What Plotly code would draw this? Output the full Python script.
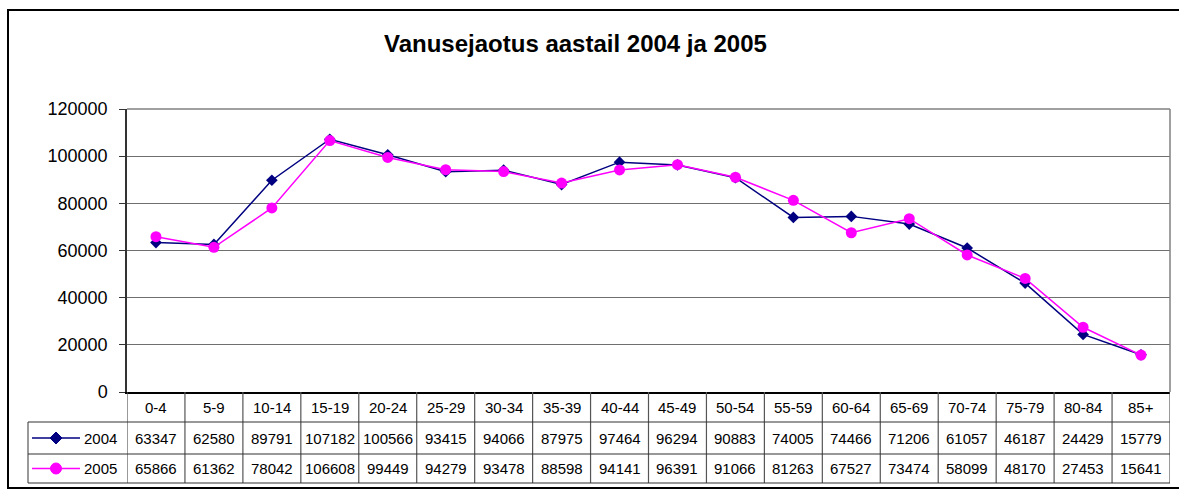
import plotly.graph_objects as go

categories = ["0-4", "5-9", "10-14", "15-19", "20-24", "25-29", "30-34", "35-39", "40-44",
              "45-49", "50-54", "55-59", "60-64", "65-69", "70-74", "75-79", "80-84", "85+"]
values_2004 = [63347, 62580, 89791, 107182, 100566, 93415, 94066, 87975, 97464,
               96294, 90883, 74005, 74466, 71206, 61057, 46187, 24429, 15779]
values_2005 = [65866, 61362, 78042, 106608, 99449, 94279, 93478, 88598, 94141,
               96391, 91066, 81263, 67527, 73474, 58099, 48170, 27453, 15641]
series_names = ["2004", "2005"]
title_text = "Vanusejaotus aastail 2004 ja 2005"
y_ticks = [0, 20000, 40000, 60000, 80000, 100000, 120000]

FONT = "Liberation Sans, Arial, sans-serif"
NAVY = "#000080"
MAGENTA = "#FF00FF"

W, H = 1179, 495
L, R, T, B = 127, 9, 109, 103
PH = H - T - B  # plot height in px
PW = W - L - R


def py(pix):
    return (H - B - pix) / PH


def px(pix):
    return (pix - L) / PW


xs = list(range(len(categories)))

fig = go.Figure()
fig.add_trace(go.Scatter(
    x=xs, y=values_2004, name=series_names[0], mode="lines+markers",
    line=dict(color=NAVY, width=1.5),
    marker=dict(symbol="diamond", size=9, color=NAVY),
    showlegend=False))
fig.add_trace(go.Scatter(
    x=xs, y=values_2005, name=series_names[1], mode="lines+markers",
    line=dict(color=MAGENTA, width=1.5),
    marker=dict(symbol="circle", size=11, color=MAGENTA),
    showlegend=False))

shapes = []
annotations = []

# outer frame
shapes.append(dict(type="rect", xref="paper", yref="paper",
                   x0=px(8), x1=px(1200), y0=py(488), y1=py(10),
                   line=dict(color="black", width=2), layer="below"))
# plot area border (top / right)
shapes.append(dict(type="line", xref="paper", yref="paper", x0=0, x1=1, y0=1, y1=1,
                   line=dict(color="#808080", width=1.5)))
shapes.append(dict(type="line", xref="paper", yref="paper", x0=1, x1=1, y0=0, y1=1,
                   line=dict(color="#808080", width=1.5)))

# table geometry
row_lines = [py(422), py(454), py(483)]
table_bottom = py(483)
legend_left = px(28)

# vertical lines of the table (through category boundaries)
for i in range(len(categories) + 1):
    shapes.append(dict(type="line", xref="x", yref="paper",
                       x0=i - 0.5, x1=i - 0.5, y0=0, y1=table_bottom,
                       line=dict(color="#555555", width=1.2)))
# left border of legend cells
shapes.append(dict(type="line", xref="paper", yref="paper",
                   x0=legend_left, x1=legend_left, y0=row_lines[0], y1=table_bottom,
                   line=dict(color="#555555", width=1.2)))
# horizontal lines
for yl in row_lines:
    shapes.append(dict(type="line", xref="paper", yref="paper",
                       x0=legend_left, x1=1, y0=yl, y1=yl,
                       line=dict(color="#333333", width=1.2)))

# header labels
for i, c in enumerate(categories):
    annotations.append(dict(x=i, y=py(407), xref="x", yref="paper", text=c,
                            xanchor="center", yanchor="middle",
                            showarrow=False, font=dict(family=FONT, size=15, color="black")))

row_centers = [py(438), py(468.5)]
for r, (vals, name, color) in enumerate([(values_2004, series_names[0], NAVY),
                                         (values_2005, series_names[1], MAGENTA)]):
    yc = row_centers[r]
    for i, v in enumerate(vals):
        annotations.append(dict(x=i, y=yc, xref="x", yref="paper", text=str(v),
                                xanchor="center", yanchor="middle",
                                showarrow=False, font=dict(family=FONT, size=15, color="black")))
    # legend key line
    shapes.append(dict(type="line", xref="paper", yref="paper",
                       x0=px(32), x1=px(80), y0=yc, y1=yc,
                       line=dict(color=color, width=1.5)))
    # legend key marker
    if r == 0:
        shapes.append(dict(type="path", xref="paper", yref="paper",
                           xsizemode="pixel", ysizemode="pixel",
                           xanchor=px(56), yanchor=yc,
                           path="M -6 0 L 0 6 L 6 0 L 0 -6 Z",
                           fillcolor=color, line=dict(color=color, width=1)))
    else:
        shapes.append(dict(type="circle", xref="paper", yref="paper",
                           xsizemode="pixel", ysizemode="pixel",
                           xanchor=px(56), yanchor=yc,
                           x0=-5.5, x1=5.5, y0=-5.5, y1=5.5,
                           fillcolor=color, line=dict(color=color, width=1)))
    annotations.append(dict(x=px(119), y=yc, xref="paper", yref="paper", text=name,
                            xanchor="right", yanchor="middle", showarrow=False,
                            font=dict(family=FONT, size=15, color="black")))

# title
annotations.append(dict(x=px(575), y=py(44), xref="paper", yref="paper", text="<b>" + title_text + "</b>",
                        xanchor="center", yanchor="middle",
                        showarrow=False, font=dict(family=FONT, size=24, color="black")))

fig.update_layout(
    width=W, height=H,
    margin=dict(l=L, r=R, t=T, b=B, pad=0),
    paper_bgcolor="white", plot_bgcolor="white",
    shapes=shapes, annotations=annotations,
    xaxis=dict(range=[-0.5, len(categories) - 0.5], showticklabels=False, showgrid=False,
               zeroline=False, showline=True, linecolor="black", linewidth=1.5, ticks=""),
    yaxis=dict(range=[0, 120000], tickvals=y_ticks, tickformat="d", showgrid=True, gridcolor="#6f6f6f",
               gridwidth=1, zeroline=False, showline=True, linecolor="#333333", linewidth=1.5,
               ticks="outside", ticklen=6, tickcolor="#333333", ticklabelstandoff=8,
               tickfont=dict(family=FONT, size=18, color="black")),
    font=dict(family=FONT),
)

fig.write_html("out.html", config={"displayModeBar": False},
               post_script="document.body.style.margin='0';document.body.style.padding='0';")
